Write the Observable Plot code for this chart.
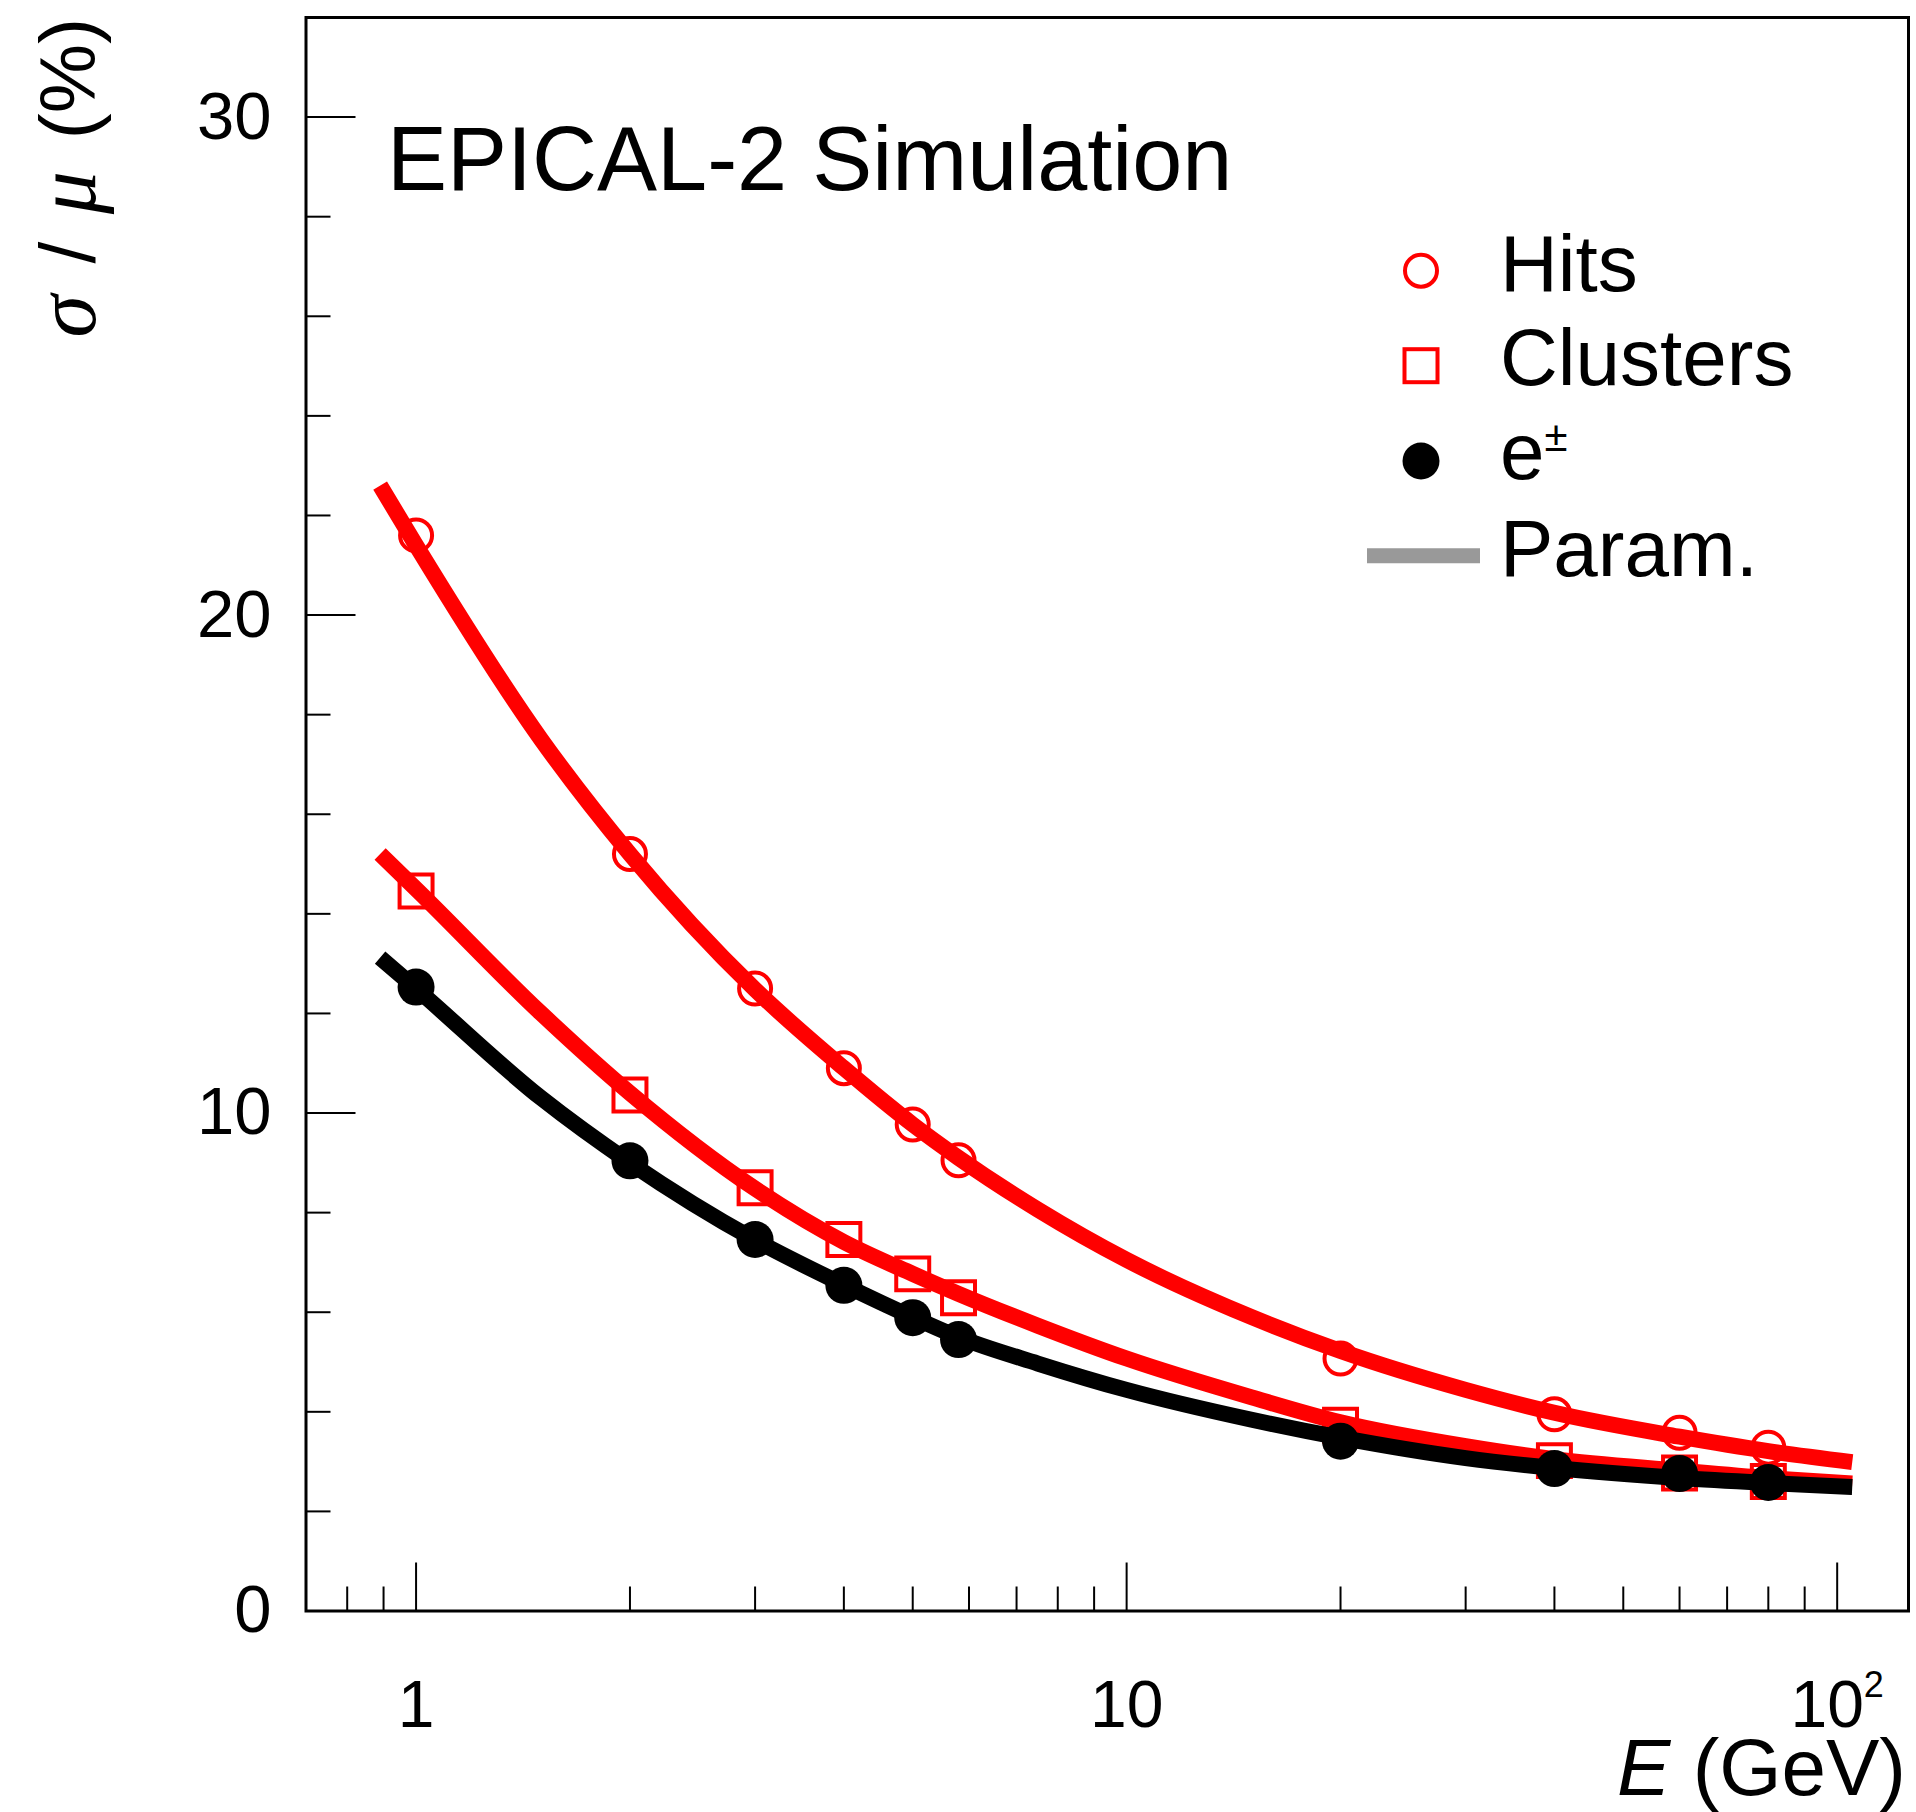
<!DOCTYPE html>
<html><head><meta charset="utf-8">
<script src="https://cdn.jsdelivr.net/npm/d3@7"></script>
<script src="https://cdn.jsdelivr.net/npm/@observablehq/plot@0.6"></script>
<style>
html,body{margin:0;padding:0;background:#fff;}
#chart svg{display:block;}
</style></head><body><div id="chart"></div>
<script>
// ---- data ----
const energies   = [1, 2, 3, 4, 5, 5.8, 20, 40, 60, 80];
const hits       = [21.6, 15.2, 12.5, 10.9, 9.77, 9.05, 5.07, 3.95, 3.58, 3.28];
const clusters   = [14.46, 10.36, 8.5, 7.46, 6.77, 6.29, 3.73, 3.02, 2.77, 2.6];
const electrons  = [12.53, 9.04, 7.46, 6.54, 5.89, 5.45, 3.41, 2.86, 2.76, 2.58];

// parametrisation curves, read at these energies
const paramE          = [0.89, 1, 1.5, 2, 3, 4, 5, 5.8, 7.5, 10, 15, 20, 30, 40, 60, 80, 105];
const hitsParam       = [22.6, 21.4, 17.5, 15.2, 12.48, 10.9, 9.77, 9.1, 8.06, 7.05, 5.9, 5.22, 4.44, 3.98, 3.5, 3.21, 2.99];
const clustersParam   = [15.2, 14.5, 12.0, 10.4, 8.48, 7.41, 6.77, 6.37, 5.73, 5.07, 4.29, 3.79, 3.31, 3.05, 2.82, 2.67, 2.56];
const electronsParam  = [13.12, 12.5, 10.3, 9.0, 7.45, 6.55, 5.9, 5.5, 4.97, 4.44, 3.84, 3.48, 3.07, 2.87, 2.67, 2.57, 2.49];

const yMajor = [0, 10, 20, 30];
const yMinor = [2, 4, 6, 8, 12, 14, 16, 18, 22, 24, 26, 28];
const xMajor = [1, 10, 100];
const xMinor = [0.8, 0.9, 2, 3, 4, 5, 6, 7, 8, 9, 20, 30, 40, 50, 60, 70, 80, 90];
const xTickLabels = ["1", "10", "10^2"];

const legendLabels = ["Hits", "Clusters", "e", "Param."];

// ---- layout ----
const W = 1916, H = 1812;
const mL = 305.5, mT = 17, mR = 8, mB = 201.5;
const plotW = W - mL - mR, plotH = H - mT - mB;
const RED = "#ff0000";
const SANS = "'Liberation Sans', Arial, Helvetica, sans-serif";
const SERIF = "'Liberation Serif', 'Times New Roman', serif";

const toPts = (xs, ys) => xs.map((x, i) => ({x, y: ys[i]}));

const chart = Plot.plot({
  width: W, height: H,
  marginLeft: mL, marginTop: mT, marginRight: mR, marginBottom: mB,
  style: {fontFamily: SANS, background: "#fff", color: "#000"},
  x: {type: "log", domain: [0.7, 126]},
  y: {domain: [0, 32]},
  marks: [
    Plot.tickY(yMajor, {y: d => d, stroke: "#000", strokeWidth: 2, insetRight: plotW - 50}),
    Plot.tickY(yMinor, {y: d => d, stroke: "#000", strokeWidth: 2, insetRight: plotW - 25}),
    Plot.tickX(xMajor, {x: d => d, stroke: "#000", strokeWidth: 2, insetTop: plotH - 48}),
    Plot.tickX(xMinor, {x: d => d, stroke: "#000", strokeWidth: 2, insetTop: plotH - 24}),
    Plot.axisY({ticks: yMajor, tickSize: 0, tickPadding: 34.5, fontSize: 67, label: null, tickFormat: d => String(d)}),
    Plot.axisX({ticks: xMajor, tickSize: 0, tickPadding: 69.5, fontSize: 66, label: null,
      tickFormat: d => xTickLabels[xMajor.indexOf(d)]}),
    Plot.dot(toPts(energies, hits), {x: "x", y: "y", symbol: "circle", r: 16, stroke: RED, strokeWidth: 4, fill: "none"}),
    Plot.line(toPts(paramE, hitsParam), {x: "x", y: "y", stroke: RED, strokeWidth: 16, curve: "monotone-x", strokeLinecap: "butt"}),
    Plot.dot(toPts(energies, clusters), {x: "x", y: "y", symbol: "square", r: 18.6, stroke: RED, strokeWidth: 4, fill: "none"}),
    Plot.line(toPts(paramE, clustersParam), {x: "x", y: "y", stroke: RED, strokeWidth: 16, curve: "monotone-x", strokeLinecap: "butt"}),
    Plot.dot(toPts(energies, electrons), {x: "x", y: "y", symbol: "circle", r: 18.5, fill: "#000", stroke: "none"}),
    Plot.line(toPts(paramE, electronsParam), {x: "x", y: "y", stroke: "#000", strokeWidth: 16, curve: "monotone-x", strokeLinecap: "butt"}),
    Plot.frame({stroke: "#000", strokeWidth: 3})
  ]
});

document.getElementById("chart").appendChild(chart);
const svg = d3.select(chart);

// superscript for 10^2 tick label
svg.selectAll("text").each(function() {
  if (this.textContent === "10^2") {
    const t = d3.select(this);
    t.text(null);
    t.append("tspan").text("10");
    t.append("tspan").attr("font-size", 36).attr("dy", -30).text("2");
  }
});

// y-axis title
const yt = svg.append("text")
  .attr("transform", "translate(95,18) rotate(-90)")
  .attr("text-anchor", "end")
  .attr("font-family", SANS).attr("font-size", 78).attr("fill", "#000");
yt.append("tspan").attr("font-family", SERIF).attr("font-style", "italic").attr("font-size", 86).text("σ");
yt.append("tspan").attr("dx", 10).text(" / ");
yt.append("tspan").attr("dx", 6).attr("font-family", SERIF).attr("font-style", "italic").attr("font-size", 86).text("μ");
yt.append("tspan").attr("dx", 10).text(" (%)");

// x-axis title
const xt = svg.append("text")
  .attr("x", 1906).attr("y", 1795)
  .attr("text-anchor", "end")
  .attr("font-family", SANS).attr("font-size", 80).attr("fill", "#000");
xt.append("tspan").attr("font-style", "italic").text("E");
xt.append("tspan").text(" (GeV)");

// header
svg.append("text").attr("x", 387).attr("y", 190)
  .attr("text-anchor", "start")
  .attr("font-family", SANS).attr("font-size", 90).attr("fill", "#000")
  .text("EPICAL-2 Simulation");

// legend
const lg = svg.append("g").attr("text-anchor", "start");
const mx = 1421, tx = 1500;
const rowY = [270.7, 365.7, 461, 555.7];
const baseY = [290.7, 385, 479, 576];
lg.append("circle").attr("cx", mx).attr("cy", rowY[0]).attr("r", 16)
  .attr("fill", "none").attr("stroke", RED).attr("stroke-width", 4);
lg.append("rect").attr("x", mx - 16.5).attr("y", rowY[1] - 16.5).attr("width", 33).attr("height", 33)
  .attr("fill", "none").attr("stroke", RED).attr("stroke-width", 4);
lg.append("circle").attr("cx", mx).attr("cy", rowY[2]).attr("r", 18.5).attr("fill", "#000");
lg.append("line").attr("x1", 1367).attr("x2", 1480).attr("y1", rowY[3]).attr("y2", rowY[3])
  .attr("stroke", "#999999").attr("stroke-width", 15);
legendLabels.forEach((lab, i) => {
  const t = lg.append("text").attr("x", tx).attr("y", baseY[i])
    .attr("text-anchor", "start")
    .attr("font-family", SANS).attr("font-size", 80).attr("fill", "#000").text(lab);
  if (lab === "e") {
    t.append("tspan").attr("font-size", 42).attr("dy", -28).text("±");
  }
});
</script>
</body></html>
